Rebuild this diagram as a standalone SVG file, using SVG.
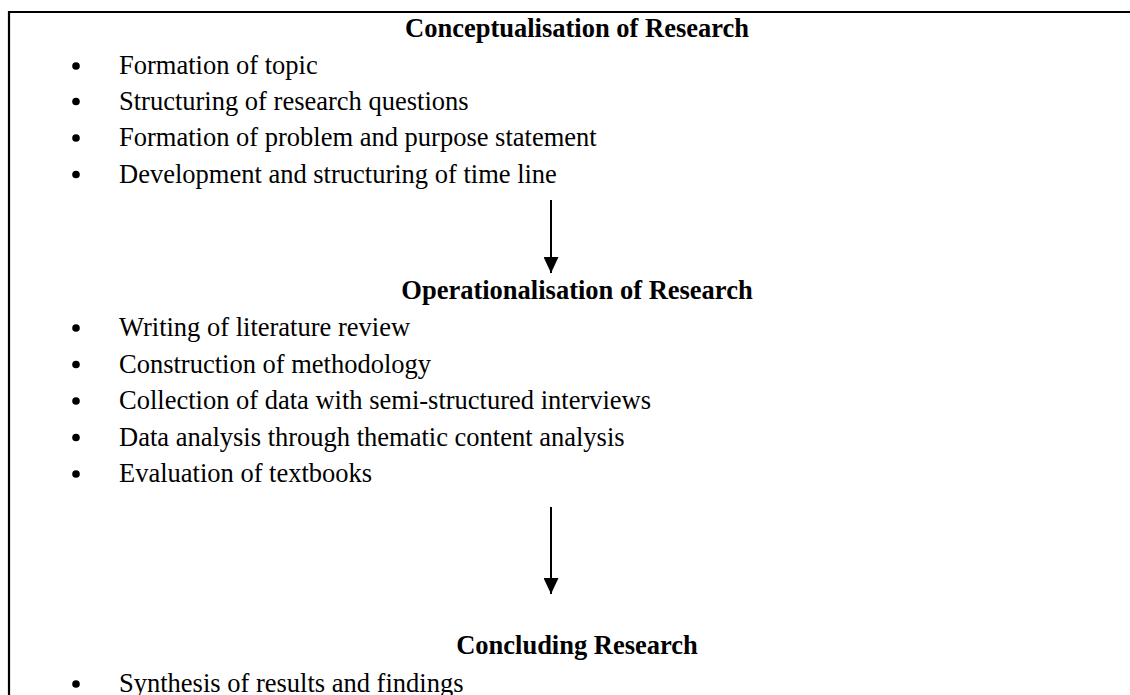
<svg xmlns="http://www.w3.org/2000/svg" width="1130" height="695" viewBox="0 0 1130 695">
  <style>
    .title { font-family: "Liberation Serif", "Times New Roman", serif; font-size: 26.5px; font-weight: bold; fill: #000; text-anchor: middle; }
    .item { font-family: "Liberation Serif", "Times New Roman", serif; font-size: 26.5px; fill: #000; }
    .bullet { fill: #000; }
    .conn { stroke: #000; stroke-width: 2; fill: none; }
    .frame { stroke: #000; stroke-width: 2.2; fill: none; }
  </style>
  <defs>
    <marker id="arrow" viewBox="0 0 16 15" refX="16" refY="7.5" markerWidth="16" markerHeight="15" markerUnits="userSpaceOnUse" orient="auto">
      <path d="M0,0 L16,7.5 L0,15 Z" fill="#000"/>
    </marker>
  </defs>
  <rect width="1130" height="695" fill="#fff"/>
  <path class="frame" d="M9,695 V12 H1130"/>

  <g id="conceptualisation">
    <text class="title" x="577" y="37">Conceptualisation of Research</text>
    <circle class="bullet" cx="76" cy="66" r="3.8"/>
    <text class="item" x="119" y="74">Formation of topic</text>
    <circle class="bullet" cx="76" cy="101.5" r="3.8"/>
    <text class="item" x="119" y="109.5">Structuring of research questions</text>
    <circle class="bullet" cx="76" cy="138" r="3.8"/>
    <text class="item" x="119" y="146">Formation of problem and purpose statement</text>
    <circle class="bullet" cx="76" cy="174.5" r="3.8"/>
    <text class="item" x="119" y="182.5">Development and structuring of time line</text>
  </g>

  <g id="operationalisation">
    <text class="title" x="577" y="299">Operationalisation of Research</text>
    <circle class="bullet" cx="76" cy="328" r="3.8"/>
    <text class="item" x="119" y="336">Writing of literature review</text>
    <circle class="bullet" cx="76" cy="364.5" r="3.8"/>
    <text class="item" x="119" y="372.5">Construction of methodology</text>
    <circle class="bullet" cx="76" cy="401" r="3.8"/>
    <text class="item" x="119" y="409">Collection of data with semi-structured interviews</text>
    <circle class="bullet" cx="76" cy="437.5" r="3.8"/>
    <text class="item" x="119" y="445.5">Data analysis through thematic content analysis</text>
    <circle class="bullet" cx="76" cy="474" r="3.8"/>
    <text class="item" x="119" y="482">Evaluation of textbooks</text>
  </g>

  <g id="concluding">
    <text class="title" x="577" y="654">Concluding Research</text>
    <circle class="bullet" cx="76" cy="684" r="3.8"/>
    <text class="item" x="119" y="692">Synthesis of results and findings</text>
  </g>

  <g id="connectors">
    <line class="conn" x1="551" y1="200" x2="551" y2="273" marker-end="url(#arrow)"/>
    <line class="conn" x1="551" y1="507" x2="551" y2="594" marker-end="url(#arrow)"/>
  </g>
</svg>
